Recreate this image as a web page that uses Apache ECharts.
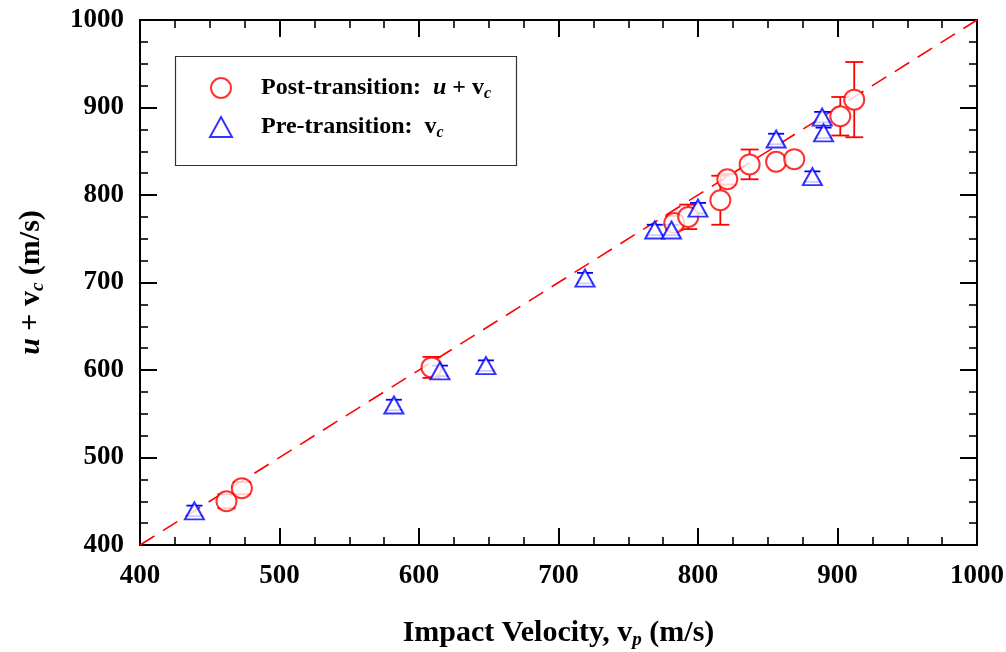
<!DOCTYPE html>
<html>
<head>
<meta charset="utf-8">
<script src="https://cdn.jsdelivr.net/npm/echarts@6/dist/echarts.min.js"></script>
<style>
  html, body { margin: 0; padding: 0; background: #fff; }
  #chart { width: 1006px; height: 652px; }
</style>
</head>
<body>
<div id="chart"></div>
<script>
// Post-transition measurements: impact velocity, u + v_c, error half-width
const postVp  = [462, 473, 609, 783, 793, 816, 821, 837, 856, 869, 902, 912];
const postVal = [450, 465, 603, 768, 775, 794, 818, 835, 838, 841, 890, 909];
const postErr = [8, 7, 12, 8, 14, 28, 6, 17, 0, 0, 22, 43];

// Pre-transition measurements: impact velocity, v_c, error half-width
const preVp  = [439, 582, 615, 648, 719, 769, 781, 800, 856, 882, 889, 890];
const preVal = [439, 560, 599, 605, 705, 760, 760, 785, 864, 821, 889, 871];
const preErr = [6, 6, 6, 6, 6, 6, 6, 6, 6, 6, 6, 6];

// Reference line u + v_c = v_p
const refLine = [[400, 400], [1000, 1000]];

const axisMin = 400, axisMax = 1000, axisStep = 100;

const RED = '#ff0000', BLUE = '#0000ff';
const FONT = '"Liberation Serif", "Times New Roman", serif';

function zip(a, b, c) { return a.map((v, i) => [v, b[i], c[i]]); }

// Error bars with caps; the stem is drawn only outside the marker
function errorBars(color, gap, capHalf) {
  return function (params, api) {
    const x = api.value(0), y = api.value(1), e = api.value(2);
    if (!e) return { type: 'group', children: [] };
    const c = api.coord([x, y]);
    const t = api.coord([x, y + e]);
    const b = api.coord([x, y - e]);
    const style = { stroke: color, lineWidth: 1.8, fill: null };
    const kids = [];
    if (c[1] - t[1] > gap) kids.push({ type: 'line', shape: { x1: c[0], y1: t[1], x2: c[0], y2: c[1] - gap }, style });
    if (b[1] - c[1] > gap) kids.push({ type: 'line', shape: { x1: c[0], y1: c[1] + gap, x2: c[0], y2: b[1] }, style });
    kids.push({ type: 'line', shape: { x1: c[0] - capHalf, y1: t[1], x2: c[0] + capHalf, y2: t[1] }, style });
    kids.push({ type: 'line', shape: { x1: c[0] - capHalf, y1: b[1], x2: c[0] + capHalf, y2: b[1] }, style });
    return { type: 'group', children: kids };
  };
}

const tickLabel = { fontFamily: FONT, fontWeight: 'bold', fontSize: 27, color: '#000', formatter: v => String(v) };

function valueAxis(pos, showLabel, extra) {
  return Object.assign({
    type: 'value', position: pos, min: axisMin, max: axisMax, interval: axisStep,
    axisLine: { show: true, onZero: false, lineStyle: { color: '#000', width: 2 } },
    axisTick: { show: true, inside: true, length: 17, lineStyle: { color: '#000', width: 2 } },
    minorTick: { show: true, splitNumber: 4, length: 8, lineStyle: { color: '#000', width: 1.6 } },
    splitLine: { show: false },
    axisLabel: Object.assign({ show: showLabel }, tickLabel)
  }, extra || {});
}

const chart = echarts.init(document.getElementById('chart'));

chart.setOption({
  backgroundColor: '#fff',
  animation: false,
  grid: { left: 140, right: 29, top: 20, bottom: 107, outerBoundsMode: 'none', containLabel: false },
  xAxis: [
    valueAxis('bottom', true, {
      name: '{t|Impact Velocity, v}{s|p}{t| (m/s)}',
      nameLocation: 'middle', nameGap: 72,
      nameTextStyle: {
        rich: {
          t: { fontFamily: FONT, fontWeight: 'bold', fontSize: 30, color: '#000' },
          s: { fontFamily: FONT, fontWeight: 'bold', fontStyle: 'italic', fontSize: 19, color: '#000', padding: [14, 0, 0, 0] }
        }
      },
      axisLabel: Object.assign({ show: true, margin: 18 }, tickLabel)
    }),
    valueAxis('top', false)
  ],
  yAxis: [
    valueAxis('left', true, {
      name: '{i|u}{t| + v}{s|c}{t| (m/s)}',
      nameLocation: 'middle', nameGap: 92, nameRotate: 90,
      nameTextStyle: {
        rich: {
          t: { fontFamily: FONT, fontWeight: 'bold', fontSize: 30, color: '#000' },
          i: { fontFamily: FONT, fontWeight: 'bold', fontStyle: 'italic', fontSize: 30, color: '#000' },
          s: { fontFamily: FONT, fontWeight: 'bold', fontStyle: 'italic', fontSize: 19, color: '#000', padding: [14, 0, 0, 0] }
        }
      },
      axisLabel: Object.assign({ show: true, margin: 16 }, tickLabel)
    }),
    valueAxis('right', false)
  ],
  legend: {
    data: ['Post-transition', 'Pre-transition'],
    orient: 'vertical', left: 204, top: 71,
    itemWidth: 22, itemHeight: 20, itemGap: 13,
    formatter: function (name) {
      return name === 'Post-transition'
        ? '{b|Post-transition:  }{i|u}{b| + v}{s|c}'
        : '{b|Pre-transition:  v}{s|c}';
    },
    textStyle: {
      padding: [0, 0, 0, 24],
      rich: {
        b: { fontFamily: FONT, fontWeight: 'bold', fontSize: 24, color: '#000' },
        i: { fontFamily: FONT, fontWeight: 'bold', fontStyle: 'italic', fontSize: 24, color: '#000' },
        s: { fontFamily: FONT, fontWeight: 'bold', fontStyle: 'italic', fontSize: 16, color: '#000', padding: [12, 0, 0, 0] }
      }
    }
  },
  graphic: [{
    type: 'rect', left: 173, top: 54, z: 0,
    shape: { width: 341, height: 109 },
    style: { fill: null, stroke: '#333', lineWidth: 1.2 }
  }],
  series: [
    {
      name: 'y = x', type: 'line', data: refLine, symbol: 'none', z: 1,
      lineStyle: { color: RED, width: 1.6, type: [17, 10] }
    },
    {
      name: 'postErr', type: 'custom', data: zip(postVp, postVal, postErr), z: 2,
      renderItem: errorBars(RED, 10, 9)
    },
    {
      name: 'preErr', type: 'custom', data: zip(preVp, preVal, preErr), z: 2,
      renderItem: errorBars(BLUE, 8, 8)
    },
    {
      name: 'Post-transition', type: 'scatter', z: 3,
      data: postVp.map((v, i) => [v, postVal[i]]),
      symbol: 'emptyCircle', symbolSize: 20,
      itemStyle: { color: RED, borderColor: RED, borderWidth: 2 }
    },
    {
      name: 'Pre-transition', type: 'scatter', z: 3,
      data: preVp.map((v, i) => [v, preVal[i]]),
      symbol: 'emptyTriangle', symbolSize: [19, 17],
      itemStyle: { color: BLUE, borderColor: BLUE, borderWidth: 2 }
    }
  ]
});
</script>
</body>
</html>
